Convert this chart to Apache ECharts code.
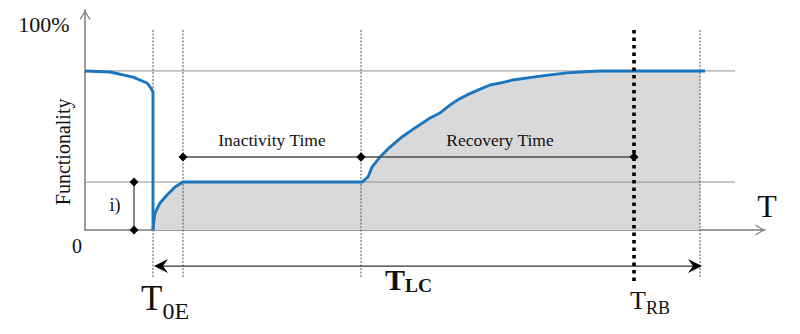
<!DOCTYPE html>
<html>
<head>
<meta charset="utf-8">
<script src="https://cdn.jsdelivr.net/npm/echarts@6/dist/echarts.min.js"></script>
<style>
  html, body { margin: 0; padding: 0; background: #ffffff; }
  #chart { width: 800px; height: 334px; }
</style>
</head>
<body>
<div id="chart"></div>
<script>
// Functionality (%) against time (arbitrary time units)
// Before the event: slow degradation, then the sudden loss at T0E
const lossT = [0, 2.5, 4.8, 6.2, 6.6, 6.8, 6.8];
const lossF = [72.3, 71.8, 69.5, 66.8, 64.5, 62.7, 0];

// After the event: first response, inactivity plateau, then recovery
const recoveryT = [6.8, 6.9, 7.0, 7.5, 8.2, 9.0, 9.8, 27.6, 27.7, 28.3, 28.7, 29.5, 30.5, 31.7, 33.0, 34.5, 35.5, 36.5,
                   37.4, 38.2, 39.4, 40.5, 41.7, 42.8, 44.8, 46.5, 48.2, 50.0, 51.5, 54.9, 61.5, 62.0];
const recoveryF = [0, 4.5, 7.7, 12.3, 15.9, 19.5, 21.8, 21.8, 21.8, 24.1, 28.6, 33.2, 37.7, 42.3, 46.4, 50.9, 53.2, 56.8,
                   59.5, 61.4, 63.8, 65.9, 67.0, 68.2, 69.5, 70.5, 71.4, 71.9, 72.3, 72.3, 72.3, 72.3];

// Key instants: event (T0E), end of first response, start of recovery, end of life cycle
const eventTimes = [6.8, 9.8, 27.6, 61.5];
const rebuildTime = 54.9;            // TRB
const levelValues = [72.3, 21.8];    // pre-event level, residual level after first response

// Phase intervals
const phaseNames = ['Inactivity Time', 'Recovery Time'];
const phaseStart = [9.8, 27.6];
const phaseEnd = [27.6, 54.9];
const phaseLevel = 33.2;

// Residual functionality bracket "i)"
const residualFrom = [4.9, 0];
const residualTo = [4.9, 21.8];

// Life-cycle span TLC
const lifeCycleSpan = [6.9, 61.7];
const lifeCycleLevel = -16.4;

// Extents of the guides
const guideTop = 90.9;
const guideBottom = -21.8;
const rebuildBottom = -24.1;
const levelEnd = 65;

const serif = "'Liberation Serif', 'Times New Roman', 'DejaVu Serif', serif";
const ink = '#111111';

// Plain labels: text, anchor [t, F], size, rotation
const labels = [
  { text: '100%', at: [-4.1, 93.2], size: 22 },
  { text: '0', at: [-0.8, -7.3], size: 20 },
  { text: 'Functionality', at: [-2.2, 35.5], size: 20, rotate: true },
  { text: 'i)', at: [3.0, 11.4], size: 18 },
  { text: phaseNames[0], at: [(phaseStart[0] + phaseEnd[0]) / 2, 40.9], size: 17.5 },
  { text: phaseNames[1], at: [(phaseStart[1] + phaseEnd[1]) / 2 + 0.25, 40.9], size: 17.5 },
  { text: 'T', at: [68.2, 10.9], size: 32 }
];

// Subscripted labels: main letter + subscript
const subLabels = [
  { main: 'T', sub: '0E', at: [5.6, -31.0], size: 35, subSize: 24, dy: 12.3, bold: false },
  { main: 'T', sub: 'LC', at: [30.0, -22.5], size: 30, subSize: 19.5, dy: 6.4, bold: true },
  { main: 'T', sub: 'RB', at: [54.5, -32.0], size: 26, subSize: 18, dy: 7.4, bold: false }
];

function pairs(xs, ys) { return xs.map((x, i) => [x, ys[i]]); }

function segShape(api, a, b) {
  const p = api.coord(a), q = api.coord(b);
  return { x1: p[0], y1: p[1], x2: q[0], y2: q[1] };
}

function diamond(p, r) {
  return {
    type: 'polygon',
    shape: { points: [[p[0], p[1] - r], [p[0] + r, p[1]], [p[0], p[1] + r], [p[0] - r, p[1]]] },
    style: { fill: '#000000' }
  };
}

function arrowHead(tip, dir) {
  const len = 14, half = 7, notch = 5;
  return {
    type: 'polygon',
    shape: { points: [
      [tip[0], tip[1]],
      [tip[0] - dir * len, tip[1] - half],
      [tip[0] - dir * (len - notch), tip[1]],
      [tip[0] - dir * len, tip[1] + half]
    ] },
    style: { fill: '#000000' }
  };
}

const chart = echarts.init(document.getElementById('chart'), null, { renderer: 'svg' });

const recoveryPts = pairs(recoveryT, recoveryF);
const fillPts = recoveryPts.filter(p => p[0] <= eventTimes[3]);

// Open chevron used for the axis arrows
const chevron = 'path://M0 10 L6 0 L12 10 L10.8 10.6 L6 2.4 L1.2 10.6 Z';

const option = {
  animation: false,
  backgroundColor: '#ffffff',
  grid: { left: 85, right: 35, top: 10, bottom: 104 },
  xAxis: {
    type: 'value', min: 0, max: 68,
    axisLine: {
      show: true, lineStyle: { color: '#7a7a7a', width: 1.5 },
      symbol: ['none', chevron], symbolSize: [11, 10], symbolOffset: [0, -5]
    },
    axisTick: { show: false }, axisLabel: { show: false }, splitLine: { show: false }
  },
  yAxis: {
    type: 'value', min: 0, max: 100,
    axisLine: {
      show: true, lineStyle: { color: '#7a7a7a', width: 1.5 },
      symbol: ['none', chevron], symbolSize: [11, 10], symbolOffset: [0, -5]
    },
    axisTick: { show: false }, axisLabel: { show: false }, splitLine: { show: false }
  },
  series: [
    {
      name: 'area', type: 'line', data: fillPts, showSymbol: false, z: 1,
      lineStyle: { width: 0, opacity: 0 },
      areaStyle: { color: '#d9d9d9', opacity: 1 },
      silent: true
    },
    {
      name: 'levels', type: 'custom', z: 2, silent: true,
      data: levelValues.map(v => [0, v, levelEnd, v]),
      renderItem: (params, api) => ({
        type: 'line',
        shape: segShape(api, [api.value(0), api.value(1)], [api.value(2), api.value(3)]),
        style: { stroke: '#8f8f8f', lineWidth: 1 }
      })
    },
    {
      name: 'guides', type: 'custom', z: 2, silent: true,
      data: eventTimes.map(t => [t, guideTop, t, guideBottom]),
      renderItem: (params, api) => ({
        type: 'line',
        shape: segShape(api, [api.value(0), api.value(1)], [api.value(2), api.value(3)]),
        style: { stroke: '#555555', lineWidth: 1, lineDash: [2, 1.5] }
      })
    },
    {
      name: 'loss', type: 'line', data: pairs(lossT, lossF), showSymbol: false, z: 3,
      lineStyle: { color: '#1b76bd', width: 2.9, join: 'round' }
    },
    {
      name: 'recovery', type: 'line', data: recoveryPts, showSymbol: false, z: 3,
      lineStyle: { color: '#1b76bd', width: 2.9, join: 'round' }
    },
    {
      name: 'phases', type: 'custom', z: 4, silent: true,
      data: phaseStart.map((s, i) => [s, phaseLevel, phaseEnd[i], phaseLevel]),
      renderItem: (params, api) => {
        const a = [api.value(0), api.value(1)], b = [api.value(2), api.value(3)];
        return {
          type: 'group',
          children: [
            { type: 'line', shape: segShape(api, a, b), style: { stroke: '#4d4d4d', lineWidth: 1.5 } },
            diamond(api.coord(a), 4.5),
            diamond(api.coord(b), 4.5)
          ]
        };
      }
    },
    {
      name: 'residual', type: 'custom', z: 4, silent: true,
      data: [[residualFrom[0], residualFrom[1], residualTo[0], residualTo[1]]],
      renderItem: (params, api) => {
        const a = [api.value(0), api.value(1)], b = [api.value(2), api.value(3)];
        return {
          type: 'group',
          children: [
            { type: 'line', shape: segShape(api, a, b), style: { stroke: '#333333', lineWidth: 1.2 } },
            diamond(api.coord(a), 4.5),
            diamond(api.coord(b), 4.5)
          ]
        };
      }
    },
    {
      name: 'lifeCycle', type: 'custom', z: 4, silent: true,
      data: [[lifeCycleSpan[0], lifeCycleLevel, lifeCycleSpan[1], lifeCycleLevel]],
      renderItem: (params, api) => {
        const a = [api.value(0), api.value(1)], b = [api.value(2), api.value(3)];
        const p = api.coord(a), q = api.coord(b);
        return {
          type: 'group',
          children: [
            { type: 'line', shape: { x1: p[0] + 6, y1: p[1], x2: q[0] - 6, y2: q[1] }, style: { stroke: '#333333', lineWidth: 1.3 } },
            arrowHead(p, -1),
            arrowHead(q, 1)
          ]
        };
      }
    },
    {
      name: 'rebuild', type: 'custom', z: 5, silent: true,
      data: [[rebuildTime, guideTop, rebuildTime, rebuildBottom]],
      renderItem: (params, api) => ({
        type: 'line',
        shape: segShape(api, [api.value(0), api.value(1)], [api.value(2), api.value(3)]),
        style: { stroke: '#000000', lineWidth: 3.6, lineDash: [3.6, 3.9] }
      })
    },
    {
      name: 'labels', type: 'custom', z: 6, silent: true,
      data: labels.map(l => l.at),
      renderItem: (params, api) => {
        const l = labels[params.dataIndex];
        const p = api.coord([api.value(0), api.value(1)]);
        return {
          type: 'text', x: p[0], y: p[1], rotation: l.rotate ? Math.PI / 2 : 0,
          style: {
            text: l.text, fill: ink, fontFamily: serif, fontSize: l.size,
            align: 'center', verticalAlign: 'middle'
          }
        };
      }
    },
    {
      name: 'subLabels', type: 'custom', z: 6, silent: true,
      data: subLabels.map(l => l.at),
      renderItem: (params, api) => {
        const l = subLabels[params.dataIndex];
        const p = api.coord([api.value(0), api.value(1)]);
        const mainWidth = (l.bold ? 0.667 : 0.611) * l.size;
        const weight = l.bold ? 'bold' : 'normal';
        return {
          type: 'group',
          children: [
            { type: 'text', x: p[0], y: p[1], style: {
                text: l.main, fill: ink, fontFamily: serif, fontSize: l.size, fontWeight: weight,
                align: 'left', verticalAlign: 'middle' } },
            { type: 'text', x: p[0] + mainWidth, y: p[1] + l.dy, style: {
                text: l.sub, fill: ink, fontFamily: serif, fontSize: l.subSize, fontWeight: weight,
                align: 'left', verticalAlign: 'middle' } }
          ]
        };
      }
    }
  ]
};

chart.setOption(option);
</script>
</body>
</html>
